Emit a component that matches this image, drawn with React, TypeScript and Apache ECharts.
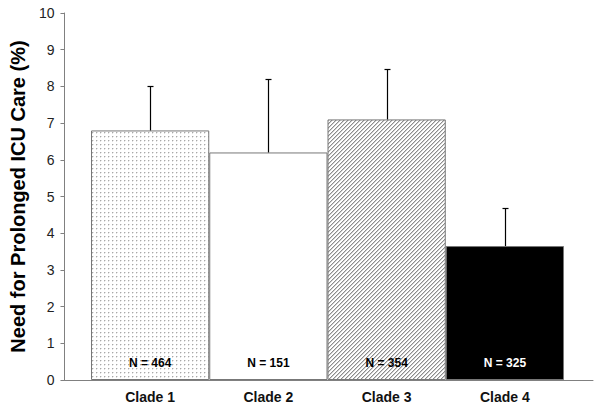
import React, { useEffect, useRef } from "react";
import * as echarts from "echarts";

const categories = ["Clade 1", "Clade 2", "Clade 3", "Clade 4"];
const values = [6.8, 6.2, 7.1, 3.65];
const errors = [1.2, 2.0, 1.38, 1.05];
const counts = [464, 151, 354, 325];
const yTicks = [0, 10, 1];

function makePattern(kind: string): any {
  const c = document.createElement("canvas");
  c.width = 4;
  c.height = 4;
  const ctx = c.getContext("2d")!;
  ctx.fillStyle = "#ffffff";
  ctx.fillRect(0, 0, 4, 4);
  if (kind === "dots") {
    ctx.fillStyle = "#a8a8a8";
    ctx.fillRect(0, 0, 1, 1);
    ctx.fillStyle = "#e0e0e0";
    ctx.fillRect(1, 0, 1, 1);
    ctx.fillRect(0, 1, 1, 1);
  } else {
    ctx.fillStyle = "#8c8c8c";
    for (let i = 0; i < 4; i++) ctx.fillRect(i, 3 - i, 1, 1);
    ctx.fillStyle = "#cfcfcf";
    for (let i = 0; i < 4; i++) ctx.fillRect(i, (4 - i) % 4, 1, 1);
  }
  return { image: c.toDataURL(), repeat: "repeat", imageWidth: 4, imageHeight: 4 };
}

export default function App() {
  const ref = useRef<HTMLDivElement>(null);
  useEffect(() => {
    const chart = echarts.init(ref.current!, null, { renderer: "svg" });
    const fills = [makePattern("dots"), "#ffffff", makePattern("hatch"), "#000000"];
    const font = "Arial, 'Liberation Sans', sans-serif";
    chart.setOption({
      animation: false,
      backgroundColor: "#ffffff",
      grid: [
        { left: 62, right: 7, top: 13, bottom: 31 },
        { left: 91, right: 36, top: 13, bottom: 31 },
      ],
      xAxis: [
        {
          gridIndex: 0,
          type: "value",
          min: 0,
          max: 1,
          axisLine: { show: true, onZero: false, lineStyle: { color: "#808080", width: 1 } },
          axisTick: { show: false },
          axisLabel: { show: false },
          splitLine: { show: false },
        },
        {
          gridIndex: 1,
          type: "category",
          data: categories,
          boundaryGap: true,
          axisLine: { show: false },
          axisTick: { show: false },
          axisLabel: {
            margin: 10,
            fontFamily: font,
            fontWeight: "bold",
            fontSize: 14,
            color: "#111",
          },
        },
      ],
      yAxis: [
        {
          gridIndex: 0,
          type: "value",
          min: yTicks[0],
          max: yTicks[1],
          interval: yTicks[2],
          name: "Need for Prolonged ICU Care (%)",
          nameLocation: "middle",
          nameGap: 36,
          nameTextStyle: { fontFamily: font, fontWeight: "bold", fontSize: 20, color: "#000" },
          axisLine: { show: true, lineStyle: { color: "#808080", width: 1 } },
          axisTick: { show: true, inside: false, length: 4, lineStyle: { color: "#808080" } },
          axisLabel: { margin: 10, fontFamily: font, fontSize: 14, color: "#222" },
          splitLine: { show: false },
        },
        {
          gridIndex: 1,
          type: "value",
          min: yTicks[0],
          max: yTicks[1],
          show: false,
        },
      ],
      series: [
        {
          type: "bar",
          xAxisIndex: 1,
          yAxisIndex: 1,
          barWidth: "100%",
          data: values.map((v, i) => ({
            value: v,
            itemStyle: { color: fills[i], borderColor: "#777777", borderWidth: 1 },
            label: {
              show: true,
              position: "insideBottom",
              distance: 11,
              formatter: "N = " + counts[i],
              fontFamily: font,
              fontWeight: "bold",
              fontSize: 12,
              color: i === 3 ? "#ffffff" : "#000000",
            },
          })),
        },
        {
          type: "custom",
          xAxisIndex: 1,
          yAxisIndex: 1,
          data: values.map((v, i) => [i, v, v + errors[i]]),
          renderItem: (params: any, api: any) => {
            const base = api.coord([api.value(0), api.value(1)]);
            const top = api.coord([api.value(0), api.value(2)]);
            const x = Math.round(base[0]) + 0.5;
            const ty = Math.round(top[1]) + 0.5;
            const style = { stroke: "#000", lineWidth: 1.2 };
            return {
              type: "group",
              children: [
                { type: "line", shape: { x1: x, y1: base[1], x2: x, y2: ty }, style },
                { type: "line", shape: { x1: x - 3, y1: ty, x2: x + 3, y2: ty }, style },
              ],
            };
          },
          z: 5,
        },
      ],
    });
    return () => chart.dispose();
  }, []);
  return <div ref={ref} style={{ width: 600, height: 411, position: "absolute", left: 0, top: 0 }} />;
}
